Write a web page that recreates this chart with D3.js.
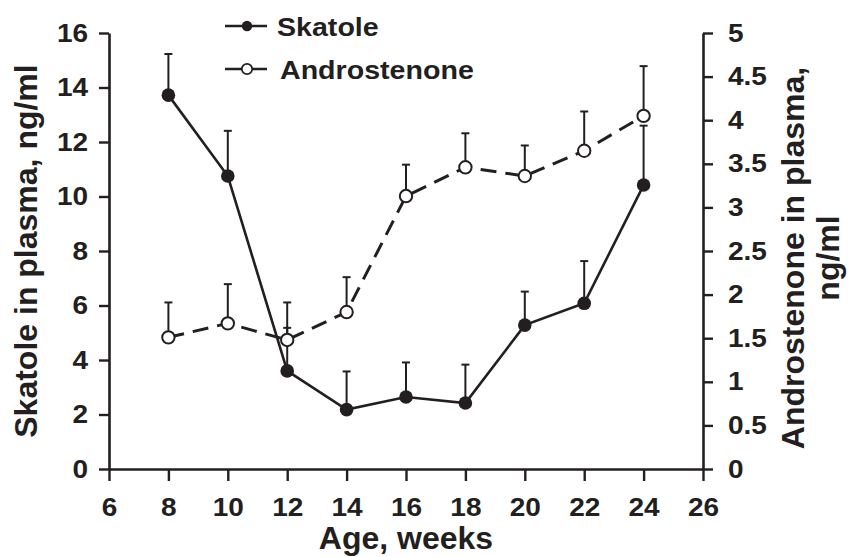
<!DOCTYPE html>
<html>
<head>
<meta charset="utf-8">
<script src="https://cdn.jsdelivr.net/npm/d3@7"></script>
<style>
  body { margin: 0; background: #fff; }
  svg { display: block; }
</style>
</head>
<body>
<div id="chart"></div>
<script>
// Data
const weeks = [8, 10, 12, 14, 16, 18, 20, 22, 24];
const skatole = [13.72, 10.75, 3.6, 2.18, 2.64, 2.42, 5.28, 6.08, 10.42];
const skatoleErr = [1.51, 1.66, 1.58, 1.4, 1.27, 1.41, 1.23, 1.55, 2.18];
const androstenone = [1.51, 1.67, 1.48, 1.8, 3.13, 3.46, 3.36, 3.65, 4.05];
const androstenoneErr = [0.4, 0.45, 0.43, 0.4, 0.36, 0.39, 0.35, 0.45, 0.57];

const xTicks = [6, 8, 10, 12, 14, 16, 18, 20, 22, 24, 26];
const leftTicks = [0, 2, 4, 6, 8, 10, 12, 14, 16];
const rightTicks = [0, 0.5, 1, 1.5, 2, 2.5, 3, 3.5, 4, 4.5, 5];

const W = 848;
const H = 557;
const ink = '#231f20';
const font = '"Liberation Sans", Arial, Helvetica, sans-serif';

const x = d3.scaleLinear().domain([6, 26]).range([109, 703]);
const yL = d3.scaleLinear().domain([0, 16]).range([469, 33]);
const yR = d3.scaleLinear().domain([0, 5]).range([469, 33]);

const svg = d3.select('#chart')
  .append('svg')
  .attr('width', W)
  .attr('height', H);

// widen a text horizontally around its anchor point
function widen(sel, sx) {
  sel.attr('transform', function () {
    const tx = +d3.select(this).attr('x') || 0;
    return `translate(${tx},0) scale(${sx},1) translate(${-tx},0)`;
  });
}

// Axes
function styleAxis(g, size) {
  g.selectAll('path.domain')
    .attr('stroke', ink)
    .attr('stroke-width', 2.6);
  g.selectAll('.tick line')
    .attr('stroke', ink)
    .attr('stroke-width', 2.4);
  const t = g.selectAll('.tick text')
    .attr('fill', ink)
    .style('font-family', font)
    .style('font-weight', 'bold')
    .style('font-size', `${size}px`);
  widen(t, 1.12);
}

const xAxis = svg.append('g')
  .attr('transform', `translate(0, ${yL(0)})`)
  .call(d3.axisBottom(x).tickValues(xTicks).tickSize(12).tickSizeOuter(0).tickPadding(17));
styleAxis(xAxis, 25);

const leftAxis = svg.append('g')
  .attr('transform', `translate(${x(6)}, 0)`)
  .call(d3.axisLeft(yL).tickValues(leftTicks).tickSize(10).tickSizeOuter(0).tickPadding(11));
styleAxis(leftAxis, 25);

const rightAxis = svg.append('g')
  .attr('transform', `translate(${x(26)}, 0)`)
  .call(d3.axisRight(yR).tickValues(rightTicks).tickSize(10).tickSizeOuter(0).tickPadding(15)
    .tickFormat(d3.format('')));
styleAxis(rightAxis, 25);

// Axis titles
svg.append('text')
  .attr('x', (x(6) + x(26)) / 2)
  .attr('y', 549)
  .attr('text-anchor', 'middle')
  .attr('fill', ink)
  .style('font-family', font)
  .style('font-weight', 'bold')
  .style('font-size', '32px')
  .text('Age, weeks');

svg.append('text')
  .attr('transform', 'translate(37, 251) rotate(-90)')
  .attr('text-anchor', 'middle')
  .attr('fill', ink)
  .style('font-family', font)
  .style('font-weight', 'bold')
  .style('font-size', '32px')
  .text('Skatole in plasma, ng/ml');

const rTitle = svg.append('text')
  .attr('transform', 'translate(804, 258) rotate(-90)')
  .attr('text-anchor', 'middle')
  .attr('fill', ink)
  .style('font-family', font)
  .style('font-weight', 'bold')
  .style('font-size', '32px');
rTitle.append('tspan').attr('x', 0).attr('dy', 0).text('Androstenone in plasma,');
rTitle.append('tspan').attr('x', 0).attr('dy', 35).text('ng/ml');

// Error bars (upper only)
function errorBars(vals, errs, y) {
  const g = svg.append('g');
  weeks.forEach((w, i) => {
    const top = y(vals[i] + errs[i]);
    g.append('line')
      .attr('x1', x(w)).attr('x2', x(w))
      .attr('y1', y(vals[i])).attr('y2', top)
      .attr('stroke', ink).attr('stroke-width', 2);
    g.append('line')
      .attr('x1', x(w) - 4).attr('x2', x(w) + 4)
      .attr('y1', top).attr('y2', top)
      .attr('stroke', ink).attr('stroke-width', 2);
  });
}
errorBars(androstenone, androstenoneErr, yR);
errorBars(skatole, skatoleErr, yL);

// Lines
const androLine = d3.line().x((d, i) => x(weeks[i])).y(d => yR(d));
const skatoleLine = d3.line().x((d, i) => x(weeks[i])).y(d => yL(d));

svg.append('path')
  .datum(androstenone)
  .attr('d', androLine)
  .attr('fill', 'none')
  .attr('stroke', ink)
  .attr('stroke-width', 3)
  .attr('stroke-dasharray', '16,9');

svg.append('path')
  .datum(skatole)
  .attr('d', skatoleLine)
  .attr('fill', 'none')
  .attr('stroke', ink)
  .attr('stroke-width', 2.6);

// Markers
svg.selectAll('.andro-node')
  .data(androstenone)
  .enter()
  .append('circle')
  .attr('class', 'andro-node')
  .attr('cx', (d, i) => x(weeks[i]))
  .attr('cy', d => yR(d))
  .attr('r', 6.2)
  .attr('fill', '#fff')
  .attr('stroke', ink)
  .attr('stroke-width', 2);

svg.selectAll('.skatole-node')
  .data(skatole)
  .enter()
  .append('circle')
  .attr('class', 'skatole-node')
  .attr('cx', (d, i) => x(weeks[i]))
  .attr('cy', d => yL(d))
  .attr('r', 6.8)
  .attr('fill', ink);

// Legend
const legend = [
  { name: 'Skatole', y: 26, filled: true, tx: 277 },
  { name: 'Androstenone', y: 69, filled: false, tx: 280 },
];
const lg = svg.selectAll('.legend')
  .data(legend)
  .enter()
  .append('g')
  .attr('class', 'legend');
lg.append('line')
  .attr('x1', 225).attr('x2', 267)
  .attr('y1', d => d.y).attr('y2', d => d.y)
  .attr('stroke', ink).attr('stroke-width', 2.4);
lg.append('circle')
  .attr('cx', 247)
  .attr('cy', d => d.y)
  .attr('r', 5.2)
  .attr('fill', d => (d.filled ? ink : '#fff'))
  .attr('stroke', ink)
  .attr('stroke-width', d => (d.filled ? 0 : 1.8));
const lt = lg.append('text')
  .attr('x', d => d.tx)
  .attr('y', d => d.y + 10)
  .attr('fill', ink)
  .style('font-family', font)
  .style('font-weight', 'bold')
  .style('font-size', '26px')
  .text(d => d.name);
widen(lt, 1.1);
</script>
</body>
</html>
